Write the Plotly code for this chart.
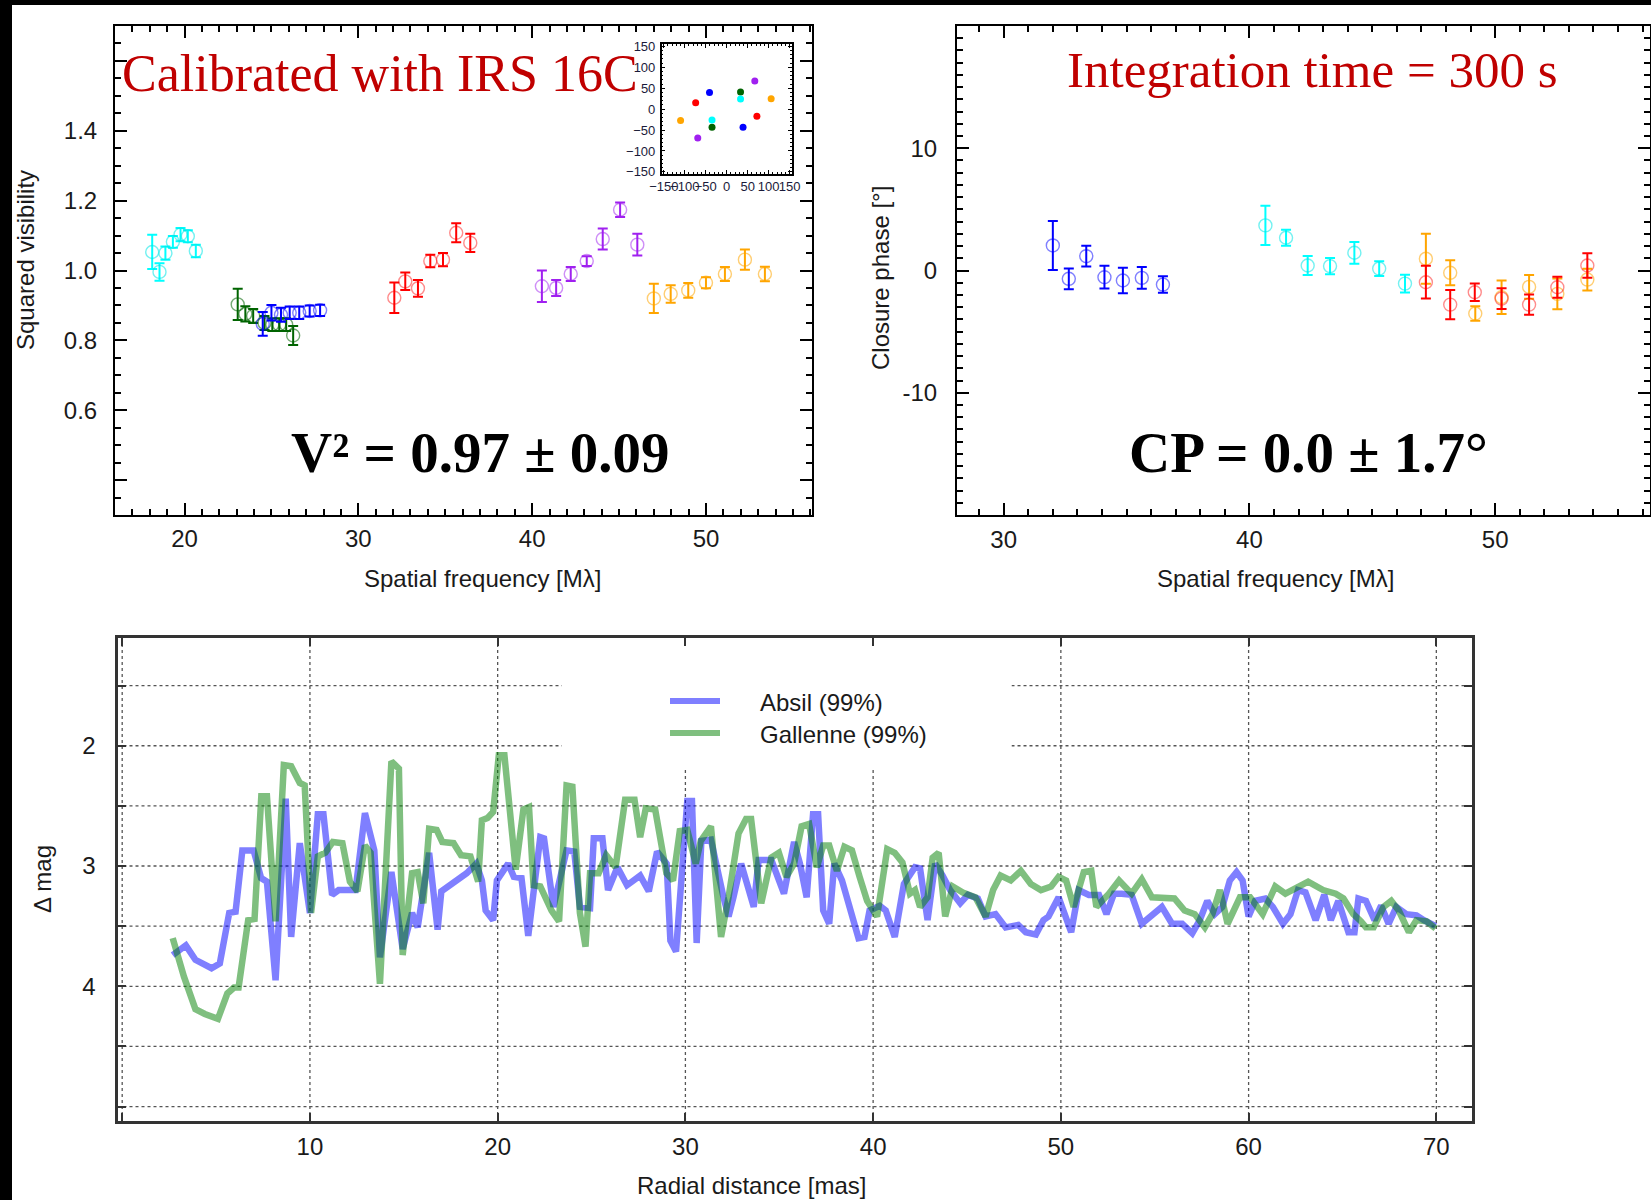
import plotly.graph_objects as go

# ---------------- Squared visibility (top left) ----------------
v2_cyan_x = [18.14, 18.56, 18.90, 19.33, 19.77, 20.19, 20.65]
v2_cyan_y = [1.053, 0.996, 1.050, 1.082, 1.103, 1.098, 1.056]
v2_cyan_e = [0.049, 0.025, 0.019, 0.017, 0.019, 0.017, 0.018]

v2_green_x = [23.06, 23.50, 23.95, 24.60, 25.05, 25.45, 25.85, 26.25]
v2_green_y = [0.903, 0.876, 0.870, 0.850, 0.845, 0.845, 0.845, 0.814]
v2_green_e = [0.045, 0.022, 0.020, 0.020, 0.018, 0.018, 0.018, 0.027]

v2_blue_x = [24.50, 25.00, 25.55, 26.05, 26.60, 27.20, 27.80]
v2_blue_y = [0.847, 0.879, 0.873, 0.879, 0.879, 0.884, 0.886]
v2_blue_e = [0.034, 0.022, 0.020, 0.018, 0.018, 0.016, 0.016]

v2_red_x = [32.07, 32.70, 33.43, 34.14, 34.87, 35.63, 36.44]
v2_red_y = [0.922, 0.969, 0.949, 1.027, 1.031, 1.108, 1.079]
v2_red_e = [0.044, 0.025, 0.024, 0.018, 0.019, 0.027, 0.026]

v2_purple_x = [40.56, 41.38, 42.22, 43.14, 44.06, 45.06, 46.05]
v2_purple_y = [0.955, 0.950, 0.990, 1.027, 1.090, 1.174, 1.074]
v2_purple_e = [0.045, 0.023, 0.020, 0.014, 0.030, 0.021, 0.031]

v2_orange_x = [47.00, 47.97, 48.98, 50.00, 51.09, 52.24, 53.39]
v2_orange_y = [0.920, 0.933, 0.943, 0.965, 0.990, 1.031, 0.990]
v2_orange_e = [0.042, 0.025, 0.021, 0.016, 0.020, 0.029, 0.021]

# ---------------- uv coverage inset ----------------
uv_x = [67, -69, 33, -35, -41, 39, -74, 72, 33, -35, 106, -110]
uv_y = [67, -69, 41, -43, 40, -43, 15, -17, 24, -26, 25, -27]
uv_colors = ["#a020f0", "#a020f0", "#006400", "#006400", "#0000ff", "#0000ff",
             "#ff0000", "#ff0000", "#00ffff", "#00ffff", "#ffa500", "#ffa500"]

# ---------------- Closure phase (top right) ----------------
cp_blue_x = [32.00, 32.65, 33.36, 34.10, 34.85, 35.62, 36.48]
cp_blue_y = [2.05, -0.68, 1.17, -0.55, -0.82, -0.60, -1.15]
cp_blue_e = [2.00, 0.85, 0.85, 0.93, 1.05, 0.89, 0.68]

cp_cyan_x = [40.65, 41.49, 42.37, 43.28, 44.27, 45.28, 46.33]
cp_cyan_y = [3.69, 2.68, 0.41, 0.36, 1.45, 0.16, -1.07]
cp_cyan_e = [1.61, 0.66, 0.77, 0.66, 0.89, 0.60, 0.72]

cp_orange_x = [47.18, 48.17, 49.19, 50.26, 51.38, 52.53, 53.75]
cp_orange_y = [0.96, -0.19, -3.52, -2.19, -1.34, -1.91, -0.74]
cp_orange_e = [2.05, 1.02, 0.59, 1.37, 0.98, 1.26, 0.89]

cp_red_x = [47.18, 48.17, 49.17, 50.26, 51.38, 52.53, 53.75]
cp_red_y = [-0.96, -2.79, -1.78, -2.30, -2.79, -1.37, 0.41]
cp_red_e = [1.34, 1.20, 0.72, 0.85, 0.82, 0.86, 1.00]

# ---------------- Detection limits (bottom) ----------------
absil_x = [2.69, 3.39, 3.9, 4.76, 5.2, 5.7, 6.04, 6.4, 7.0, 7.4,
           7.71, 8.17, 8.71, 9.0, 9.46, 10.0, 10.42, 10.72, 11.18, 11.53,
           12.43, 12.93, 13.43, 13.73, 14.34, 14.94, 15.44, 15.74, 16.35, 16.8,
           17.0, 17.45, 17.85, 18.35, 18.86, 19.16, 19.36, 19.76, 19.96, 20.56,
           20.86, 21.27, 21.63, 22.27, 22.47, 22.97, 23.67, 24.08, 24.38, 24.92,
           25.12, 25.58, 25.88, 26.38, 26.89, 27.59, 28.05, 28.49, 29.0, 29.2,
           29.5, 30.1, 30.35, 30.6, 30.85, 31.36, 32.03, 32.3, 32.56, 32.97,
           33.64, 33.9, 34.58, 35.25, 35.79, 36.1, 36.46, 36.8, 37.07, 37.34,
           37.66, 37.93, 38.34, 38.74, 39.22, 39.54, 39.81, 40.35, 40.67, 41.15,
           41.64, 42.23, 42.5, 42.9, 43.3, 43.7, 44.1, 44.64, 45.05, 45.58,
           45.99, 46.52, 47.06, 47.73, 48.13, 48.67, 49.07, 49.34, 49.88, 50.55,
           50.95, 51.49, 52.03, 52.43, 52.83, 53.24, 53.77, 54.31, 54.85, 55.38,
           55.92, 56.46, 57.0, 57.4, 57.8, 58.2, 58.6, 59.0, 59.36, 59.68,
           60.0, 60.35, 60.89, 61.29, 61.83, 62.23, 62.63, 63.03, 63.57, 64.03,
           64.38, 64.78, 65.32, 65.64, 65.85, 66.25, 66.71, 67.06, 67.46, 67.87,
           68.4, 68.94, 69.34, 69.96]
absil_y = [3.74, 3.66, 3.78, 3.85, 3.81, 3.39, 3.38, 2.87, 2.87, 3.10,
           3.13, 3.95, 2.44, 3.59, 2.81, 3.39, 2.57, 2.57, 3.24, 3.20,
           3.20, 2.56, 2.87, 3.76, 3.05, 3.69, 3.39, 3.51, 2.89, 3.53,
           3.21, 3.16, 3.13, 3.06, 2.98, 3.12, 3.37, 3.45, 3.12, 2.98,
           3.09, 3.10, 3.58, 2.76, 2.77, 3.34, 2.87, 2.88, 3.34, 3.35,
           2.77, 2.77, 3.20, 3.01, 3.16, 3.08, 3.21, 2.88, 2.98, 3.62,
           3.71, 2.46, 2.46, 3.64, 2.79, 2.78, 3.26, 3.42, 3.26, 2.98,
           3.34, 2.95, 2.95, 3.23, 2.80, 2.98, 3.26, 2.57, 2.57, 3.37,
           3.48, 2.98, 3.12, 3.34, 3.60, 3.59, 3.37, 3.33, 3.37, 3.59,
           3.15, 3.01, 3.02, 3.45, 2.98, 3.08, 3.20, 3.31, 3.24, 3.27,
           3.42, 3.40, 3.51, 3.49, 3.55, 3.57, 3.45, 3.42, 3.26, 3.55,
           3.20, 3.24, 3.24, 3.40, 3.23, 3.23, 3.24, 3.48, 3.40, 3.34,
           3.48, 3.48, 3.56, 3.45, 3.29, 3.40, 3.34, 3.12, 3.05, 3.12,
           3.42, 3.29, 3.27, 3.34, 3.48, 3.40, 3.20, 3.22, 3.45, 3.24,
           3.45, 3.29, 3.55, 3.55, 3.27, 3.29, 3.45, 3.33, 3.48, 3.34,
           3.40, 3.41, 3.45, 3.50]

gallenne_x = [2.69, 3.29, 3.9, 4.4, 5.1, 5.6, 5.96, 6.2, 6.71, 7.05,
              7.41, 7.71, 8.17, 8.61, 9.0, 9.46, 9.72, 10.06, 10.42, 10.82,
              11.22, 11.73, 12.13, 12.53, 12.93, 13.23, 13.73, 14.34, 14.74, 14.94,
              15.44, 15.74, 16.04, 16.35, 16.75, 17.05, 17.65, 18.05, 18.55, 18.96,
              19.16, 19.46, 19.76, 20.06, 20.36, 20.66, 20.96, 21.37, 21.67, 21.91,
              22.27, 22.87, 23.27, 23.67, 23.98, 24.38, 24.68, 24.92, 25.38, 25.78,
              26.28, 26.79, 27.29, 27.59, 27.89, 28.39, 28.99, 29.34, 29.7, 30.1,
              30.55, 30.82, 31.36, 31.9, 32.3, 32.83, 33.23, 33.5, 34.04, 34.58,
              34.98, 35.38, 35.79, 36.19, 36.59, 37.0, 37.34, 37.66, 38.07, 38.47,
              38.87, 39.28, 39.68, 40.21, 40.75, 41.15, 41.56, 41.96, 42.23, 42.5,
              42.9, 43.17, 43.49, 43.84, 44.24, 44.78, 45.45, 45.99, 46.39, 46.79,
              47.33, 47.87, 48.4, 48.94, 49.48, 49.88, 50.28, 50.68, 51.22, 51.62,
              51.89, 52.56, 53.1, 53.77, 54.31, 54.85, 55.52, 56.05, 56.59, 57.13,
              57.67, 58.07, 58.47, 58.88, 59.54, 60.08, 60.75, 61.42, 61.96, 62.63,
              63.17, 63.97, 64.64, 65.05, 65.58, 65.99, 66.25, 66.66, 67.19, 67.6,
              68.0, 68.54, 68.94, 69.48, 69.96]
gallenne_y = [3.60, 3.92, 4.19, 4.23, 4.27, 4.06, 4.01, 4.01, 3.45, 3.44,
              2.42, 2.42, 3.46, 2.16, 2.17, 2.31, 2.33, 3.39, 2.92, 2.89,
              2.80, 2.81, 3.13, 3.21, 2.83, 2.89, 3.98, 2.13, 2.19, 3.74,
              3.06, 3.05, 3.31, 2.69, 2.70, 2.80, 2.81, 2.91, 2.92, 3.13,
              2.62, 2.60, 2.55, 2.08, 2.08, 2.51, 3.03, 2.53, 2.51, 3.16,
              3.17, 3.37, 3.46, 2.33, 2.34, 3.39, 3.67, 3.06, 3.06, 2.91,
              3.01, 2.45, 2.45, 2.76, 2.52, 2.53, 3.06, 3.12, 2.71, 2.70,
              2.98, 2.79, 2.67, 3.59, 3.26, 2.73, 2.61, 2.61, 3.31, 2.93,
              2.89, 3.09, 2.98, 2.67, 2.65, 3.01, 2.83, 2.83, 3.04, 2.84,
              2.87, 3.09, 3.29, 3.42, 2.86, 2.89, 2.97, 3.23, 3.20, 3.34,
              3.26, 2.93, 2.89, 3.42, 3.17, 3.22, 3.26, 3.42, 3.20, 3.08,
              3.12, 3.04, 3.15, 3.20, 3.17, 3.09, 3.12, 3.34, 3.05, 3.04,
              3.34, 3.23, 3.12, 3.23, 3.11, 3.26, 3.27, 3.27, 3.37, 3.40,
              3.51, 3.40, 3.20, 3.48, 3.26, 3.26, 3.40, 3.17, 3.23, 3.17,
              3.13, 3.20, 3.23, 3.27, 3.40, 3.46, 3.51, 3.51, 3.34, 3.29,
              3.37, 3.55, 3.45, 3.46, 3.52]

# grid positions of the detection-limit panel
grid_x = [0, 10, 20, 30, 40, 50, 60, 70]
grid_y = [1.5, 2, 2.5, 3, 3.5, 4, 4.5, 5]

W, H = 1651, 1200
SANS = "Liberation Sans, Arial, sans-serif"
SERIF = "Liberation Serif, Times New Roman, serif"
TXT = "#1a1a1a"
ABSIL_COLOR = "rgba(0,0,255,0.5)"
GALLENNE_COLOR = "rgba(0,128,0,0.5)"
GRID = dict(color="#555555", width=1.3, dash="dot")

fig = go.Figure()


def add_err(x, y, e, color, faint, xa, ya):
    fig.add_trace(go.Scatter(
        x=x, y=y, mode="markers", xaxis=xa, yaxis=ya, showlegend=False,
        marker=dict(symbol="circle-open", size=13, color=faint,
                    line=dict(width=1.4, color=faint)),
        error_y=dict(type="data", array=e, visible=True, color=color,
                     thickness=2, width=5),
    ))


# visibility panel
add_err(v2_cyan_x, v2_cyan_y, v2_cyan_e, "#00ffff", "rgba(0,230,230,0.55)", "x", "y")
add_err(v2_green_x, v2_green_y, v2_green_e, "#006400", "rgba(0,100,0,0.55)", "x", "y")
add_err(v2_blue_x, v2_blue_y, v2_blue_e, "#0000ff", "rgba(0,0,255,0.5)", "x", "y")
add_err(v2_red_x, v2_red_y, v2_red_e, "#ff0000", "rgba(255,0,0,0.45)", "x", "y")
add_err(v2_purple_x, v2_purple_y, v2_purple_e, "#a020f0", "rgba(160,32,240,0.5)", "x", "y")
add_err(v2_orange_x, v2_orange_y, v2_orange_e, "#ffa500", "rgba(255,165,0,0.55)", "x", "y")

# closure phase panel
add_err(cp_blue_x, cp_blue_y, cp_blue_e, "#0000ff", "rgba(0,0,255,0.5)", "x2", "y2")
add_err(cp_cyan_x, cp_cyan_y, cp_cyan_e, "#00ffff", "rgba(0,230,230,0.55)", "x2", "y2")
add_err(cp_orange_x, cp_orange_y, cp_orange_e, "#ffa500", "rgba(255,165,0,0.55)", "x2", "y2")
add_err(cp_red_x, cp_red_y, cp_red_e, "#ff0000", "rgba(255,0,0,0.45)", "x2", "y2")

# uv coverage inset
fig.add_trace(go.Scatter(
    x=uv_x, y=uv_y, mode="markers", xaxis="x4", yaxis="y4", showlegend=False,
    marker=dict(size=7, color=uv_colors, line=dict(width=0)),
))

# detection-limit curves
fig.add_trace(go.Scatter(
    x=absil_x, y=absil_y, mode="lines", xaxis="x3", yaxis="y3", name="Absil (99%)",
    showlegend=False, line=dict(color=ABSIL_COLOR, width=6.5),
))
fig.add_trace(go.Scatter(
    x=gallenne_x, y=gallenne_y, mode="lines", xaxis="x3", yaxis="y3", name="Gallenne (99%)",
    showlegend=False, line=dict(color=GALLENNE_COLOR, width=6.5),
))


def px_x(p):
    return p / W


def px_y(p):
    return 1 - p / H


frame = dict(showline=True, linecolor="black", linewidth=2, mirror="allticks",
             ticks="inside", tickcolor="black", showgrid=False, zeroline=False,
             automargin=False, tickfont=dict(family=SANS, size=24, color=TXT))

fig.update_layout(
    width=W, height=H, margin=dict(l=0, r=0, t=0, b=0, autoexpand=False),
    paper_bgcolor="white", plot_bgcolor="white",
    xaxis=dict(frame, domain=[px_x(115), px_x(812)], range=[16, 56.1],
               tickvals=[20, 30, 40, 50], ticklen=12, tickwidth=1.5, ticklabelstandoff=1,
               minor=dict(dtick=1, tick0=0, ticks="inside", ticklen=6, tickcolor="black"),
               anchor="y"),
    yaxis=dict(frame, domain=[px_y(515), px_y(26)], range=[0.3, 1.7],
               tickvals=[0.4, 0.6, 0.8, 1.0, 1.2, 1.4, 1.6],
               ticktext=["", "0.6", "0.8", "1.0", "1.2", "1.4", ""],
               ticklen=12, tickwidth=1.5, ticklabelstandoff=11,
               minor=dict(dtick=0.05, tick0=0, ticks="inside", ticklen=6, tickcolor="black"),
               anchor="x"),
    xaxis2=dict(frame, domain=[px_x(957), px_x(1650)], range=[28.1, 56.3],
                tickvals=[30, 40, 50], ticklen=12, tickwidth=1.5, ticklabelstandoff=2,
                minor=dict(dtick=1, tick0=0, ticks="inside", ticklen=6, tickcolor="black"),
                anchor="y2"),
    yaxis2=dict(frame, domain=[px_y(515), px_y(26)], range=[-20, 20],
                tickvals=[-20, -10, 0, 10, 20], ticktext=["", "-10", "0", "10", ""],
                ticklen=12, tickwidth=1.5, ticklabelstandoff=13,
                minor=dict(dtick=1, tick0=0, ticks="inside", ticklen=6, tickcolor="black"),
                anchor="x2"),
    xaxis3=dict(domain=[px_x(117.5), px_x(1472)], range=[-0.25, 71.9],
                tickvals=grid_x,
                ticktext=["", "10", "20", "30", "40", "50", "60", "70"],
                showline=True, linecolor="#333333", linewidth=3, mirror="allticks",
                ticks="inside", ticklen=8, tickcolor="#333333", tickwidth=1.5,
                showgrid=False, zeroline=False, ticklabelstandoff=2, automargin=False,
                tickfont=dict(family=SANS, size=24, color=TXT), anchor="y3"),
    yaxis3=dict(domain=[px_y(1121), px_y(637.5)], range=[5.12, 1.1],
                tickvals=grid_y,
                ticktext=["", "2", "", "3", "", "4", "", ""],
                showline=True, linecolor="#333333", linewidth=3, mirror="allticks",
                ticks="inside", ticklen=8, tickcolor="#333333", tickwidth=1.5,
                showgrid=False, zeroline=False, ticklabelstandoff=14, automargin=False,
                tickfont=dict(family=SANS, size=24, color=TXT), anchor="x3"),
    xaxis4=dict(domain=[px_x(661.7), px_x(791.7)], range=[-155, 155],
                tickvals=[-150, -100, -50, 0, 50, 100, 150],
                ticktext=["\u2212150", "\u2212100", "\u221250", "0", "50", "100", "150"],
                tickangle=0, showline=True, linecolor="black", linewidth=1.5,
                mirror="allticks", ticks="inside", ticklen=4, tickcolor="black",
                minor=dict(dtick=10, tick0=0, ticks="inside", ticklen=2, tickcolor="black"),
                showgrid=False, zeroline=False, ticklabelstandoff=0, automargin=False,
                tickfont=dict(family=SANS, size=13, color="#1a1a3a"), anchor="y4"),
    yaxis4=dict(domain=[px_y(174), px_y(44.3)], range=[-155, 155],
                tickvals=[-150, -100, -50, 0, 50, 100, 150],
                ticktext=["\u2212150", "\u2212100", "\u221250", "0", "50", "100", "150"],
                showline=True, linecolor="black", linewidth=1.5,
                mirror="allticks", ticks="inside", ticklen=4, tickcolor="black",
                minor=dict(dtick=10, tick0=0, ticks="inside", ticklen=2, tickcolor="black"),
                showgrid=False, zeroline=False, ticklabelstandoff=2, automargin=False,
                tickfont=dict(family=SANS, size=13, color="#1a1a3a"), anchor="x4"),
)

shapes = []
# dotted grid of the detection-limit panel, drawn beneath the curves
for gx in grid_x:
    shapes.append(dict(type="line", xref="x3", yref="y3 domain", x0=gx, x1=gx, y0=0, y1=1,
                       line=GRID, layer="below"))
for gy in grid_y:
    shapes.append(dict(type="line", xref="x3 domain", yref="y3", x0=0, x1=1, y0=gy, y1=gy,
                       line=GRID, layer="below"))
shapes += [
    # legend backing that interrupts the grid
    dict(type="rect", xref="x3 domain", yref="y3 domain", x0=0.328, x1=0.66, y0=0.73, y1=1,
         fillcolor="white", line=dict(width=0), layer="below"),
    # legend samples
    dict(type="line", xref="paper", yref="paper", x0=px_x(670), x1=px_x(720),
         y0=px_y(701), y1=px_y(701), line=dict(color=ABSIL_COLOR, width=6)),
    dict(type="line", xref="paper", yref="paper", x0=px_x(670), x1=px_x(720),
         y0=px_y(733), y1=px_y(733), line=dict(color=GALLENNE_COLOR, width=6)),
    # dark borders of the sheet
    dict(type="rect", xref="paper", yref="paper", x0=0, x1=px_x(12), y0=0, y1=1,
         fillcolor="black", line=dict(width=0), layer="above"),
    dict(type="rect", xref="paper", yref="paper", x0=0, x1=1, y0=px_y(5), y1=1,
         fillcolor="black", line=dict(width=0), layer="above"),
]
fig.update_layout(shapes=shapes)


def note(text, x, y, size, family=SANS, color=TXT, angle=0, xanchor="center", bold=False):
    fig.add_annotation(text=f"<b>{text}</b>" if bold else text,
                       x=px_x(x), y=px_y(y), xref="paper", yref="paper",
                       showarrow=False, textangle=angle, xanchor=xanchor, yanchor="middle",
                       font=dict(family=family, size=size, color=color))


RED = "#c00000"
note("Calibrated with IRS 16C", 380, 74, 52, family=SERIF, color=RED)
note("Integration time = 300 s", 1312, 70, 51, family=SERIF, color=RED)
note("V\u00b2 = 0.97 \u00b1 0.09", 481, 452, 57, family=SERIF, color="black", bold=True)
note("CP = 0.0 \u00b1 1.7\u00b0", 1308, 453, 57, family=SERIF, color="black", bold=True)

note("Squared visibility", 25, 260, 24, angle=-90)
note("Spatial frequency [M\u03bb]", 482, 578, 24)
note("Closure phase [\u00b0]", 880, 278, 24, angle=-90)
note("Spatial frequency [M\u03bb]", 1275, 578, 24)
note("\u0394 mag", 42, 879, 24, angle=-90)
note("Radial distance [mas]", 751, 1185, 24)

note("Absil (99%)", 758, 702, 24, xanchor="left")
note("Gallenne (99%)", 758, 734, 24, xanchor="left")

fig.write_html("out.html")
